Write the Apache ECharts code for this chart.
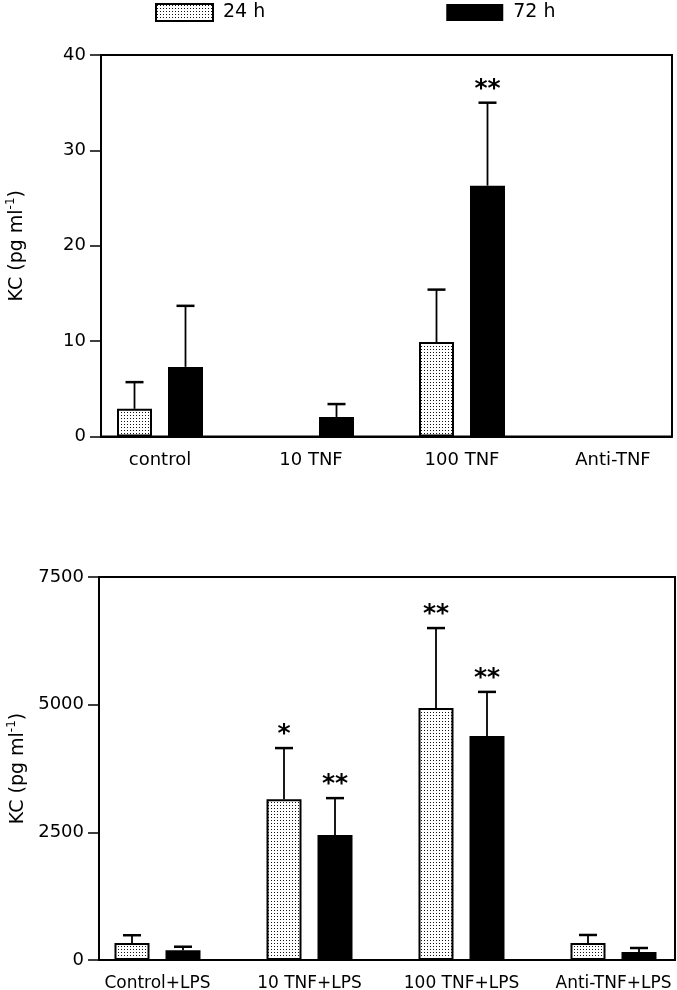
<!DOCTYPE html>
<html>
<head>
<meta charset="utf-8">
<script src="https://cdn.jsdelivr.net/npm/echarts@6/dist/echarts.min.js"></script>
<style>
html,body{margin:0;padding:0;background:#fff;}
#chart{width:677px;height:990px;}
</style>
</head>
<body>
<div id="chart"></div>
<script>
// ---------- data ----------
const topCategories = ['control', '10 TNF', '100 TNF', 'Anti-TNF'];
const top24 = [2.9, null, 9.9, null];
const top24SD = [2.8, null, 5.5, null];
const top72 = [7.3, 2.05, 26.3, null];
const top72SD = [6.4, 1.35, 8.7, null];
const top24Stars = ['', '', '', ''];
const top72Stars = ['', '', '**', ''];
const topTicks = {min: 0, max: 40, interval: 10};

const botCategories = ['Control+LPS', '10 TNF+LPS', '100 TNF+LPS', 'Anti-TNF+LPS'];
const bot24 = [335, 3150, 4935, 335];
const bot24SD = [150, 1000, 1565, 155];
const bot72 = [190, 2450, 4385, 157];
const bot72SD = [70, 720, 865, 78];
const bot24Stars = ['', '*', '**', ''];
const bot72Stars = ['', '**', '**', ''];
const botTicks = {min: 0, max: 7500, interval: 2500};

const seriesNames = ['24 h', '72 h'];
const yName = 'KC (pg ml';

// ---------- styles ----------
const FONT = 'DejaVu Sans';
const BAR_W = 35;
const GAP = 16;
const OFF = (BAR_W + GAP) / 2;

function makePattern() {
  const c = document.createElement('canvas');
  c.width = 3; c.height = 3;
  const ctx = c.getContext('2d');
  ctx.fillStyle = '#fff';
  ctx.fillRect(0, 0, 3, 3);
  ctx.fillStyle = '#111';
  ctx.fillRect(1, 1, 1, 1);
  return c;
}
const dotted = {image: makePattern(), repeat: 'repeat'};

const chart = echarts.init(document.getElementById('chart'), null, {renderer: 'canvas'});

const gbase = {containLabel: false, outerBoundsMode: 'none'};
const grids = [
  Object.assign({left: 84.5, right: -11.5, top: 55, bottom: 990 - 436.5}, gbase),
  Object.assign({left: 101, right: 5, top: 55, bottom: 990 - 436.5, show: true, borderColor: '#000', borderWidth: 2}, gbase),
  Object.assign({left: 81.5, right: -12.5, top: 577, bottom: 30}, gbase),
  Object.assign({left: 99, right: 2, top: 577, bottom: 30, show: true, borderColor: '#000', borderWidth: 2}, gbase)
];

function catAxis(gi, cats, fs) {
  return {
    type: 'category', gridIndex: gi, data: cats,
    axisLine: {show: false}, axisTick: {show: false},
    axisLabel: {interval: 0, hideOverlap: false, color: '#000', fontFamily: FONT, fontSize: fs, margin: 15}
  };
}
function frameX(gi) {
  return {
    type: 'value', gridIndex: gi, min: 0, max: 1,
    axisLine: {show: true, lineStyle: {color: '#000', width: 2}},
    axisTick: {show: false}, axisLabel: {show: false}, splitLine: {show: false}
  };
}
function hiddenY(gi, t) {
  return {type: 'value', gridIndex: gi, min: t.min, max: t.max, interval: t.interval, show: false, splitLine: {show: false}};
}
function frameY(gi, t, gap) {
  return {
    type: 'value', gridIndex: gi, min: t.min, max: t.max, interval: t.interval,
    name: '{a|' + yName + '}{s|-1}{a|)}',
    nameLocation: 'middle', nameGap: gap, nameRotate: 90,
    nameTextStyle: {
      rich: {
        a: {fontFamily: FONT, fontSize: 19, color: '#000', lineHeight: 24},
        s: {fontFamily: FONT, fontSize: 12, color: '#000', verticalAlign: 'top', lineHeight: 24, padding: [0, 0, 7, 0]}
      }
    },
    axisLine: {show: true, lineStyle: {color: '#000', width: 2}},
    axisTick: {show: true, inside: false, length: 11, lineStyle: {color: '#000', width: 1.5}},
    axisLabel: {color: '#000', fontFamily: FONT, fontSize: 18, margin: 15, formatter: v => String(v)},
    splitLine: {show: false}
  };
}

function barSeries(name, xi, data, is24) {
  return {
    name: name, type: 'bar', xAxisIndex: xi, yAxisIndex: xi, data: data,
    barWidth: BAR_W, barGap: (GAP / BAR_W * 100) + '%',
    itemStyle: is24 ? {color: dotted, borderColor: '#000', borderWidth: 2} : {color: '#000'},
    z: 2
  };
}

function errSeries(xi, means, sds, stars, sign) {
  const d = means.map((m, i) => [i, m == null ? 0 : m, sds[i] == null ? 0 : sds[i], sds[i] == null ? 0 : 1, stars[i]]);
  return {
    type: 'custom', xAxisIndex: xi, yAxisIndex: xi, data: d, z: 3, silent: true,
    encode: {x: 0, y: 1},
    renderItem: function (params, api) {
      const i = api.value(0), m = api.value(1), sd = api.value(2), has = api.value(3);
      const star = d[params.dataIndex][4];
      const x = api.coord([i, 0])[0] + sign * OFF;
      const yb = api.coord([i, m])[1];
      const yt = api.coord([i, m + sd])[1];
      const ch = [];
      if (has) {
        ch.push({type: 'line', shape: {x1: x, y1: yb, x2: x, y2: yt}, style: {stroke: '#000', lineWidth: 1.8}});
        ch.push({type: 'line', shape: {x1: x - 9, y1: yt, x2: x + 9, y2: yt}, style: {stroke: '#000', lineWidth: 2.5}});
      }
      if (star) {
        ch.push({type: 'text', x: x, y: yt - 1, style: {text: star, fill: '#000', fontFamily: FONT, fontWeight: 'bold', fontSize: 25, align: 'center', verticalAlign: 'bottom'}});
      }
      return {type: 'group', children: ch};
    }
  };
}

const option = {
  animation: false,
  backgroundColor: '#fff',
  legend: {
    data: seriesNames, left: 155, top: 3, icon: 'rect', padding: 0,
    itemWidth: 57, itemHeight: 17, itemGap: 181,
    textStyle: {fontFamily: FONT, fontSize: 19, color: '#000', padding: [2, 0, 0, 5]},
    selectedMode: false
  },
  grid: grids,
  xAxis: [catAxis(0, topCategories, 18), frameX(1), catAxis(2, botCategories, 17), frameX(3)],
  yAxis: [hiddenY(0, topTicks), frameY(1, topTicks, 72), hiddenY(2, botTicks), frameY(3, botTicks, 69)],
  series: [
    barSeries(seriesNames[0], 0, top24, true),
    barSeries(seriesNames[1], 0, top72, false),
    errSeries(0, top24, top24SD, top24Stars, -1),
    errSeries(0, top72, top72SD, top72Stars, 1),
    barSeries(seriesNames[0], 2, bot24, true),
    barSeries(seriesNames[1], 2, bot72, false),
    errSeries(2, bot24, bot24SD, bot24Stars, -1),
    errSeries(2, bot72, bot72SD, bot72Stars, 1)
  ]
};
chart.setOption(option);
</script>
</body>
</html>
